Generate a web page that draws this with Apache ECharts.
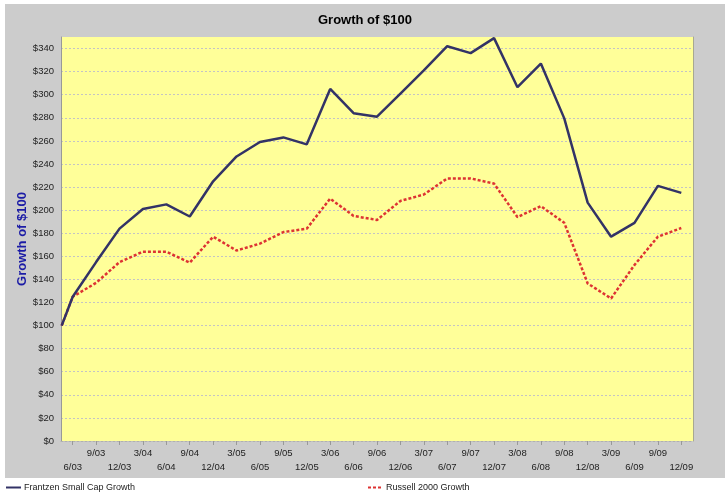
<!DOCTYPE html>
<html>
<head>
<meta charset="utf-8">
<script src="https://cdn.jsdelivr.net/npm/echarts@6/dist/echarts.min.js"></script>
<style>
  html, body { margin: 0; padding: 0; background: #ffffff; }
  #bg { position: absolute; left: 5px; top: 4px; width: 720px; height: 474px; background: #cccccc; }
  #chart { position: absolute; left: 0; top: 0; width: 725px; height: 494px; }
</style>
</head>
<body>
<div id="bg"></div>
<div id="chart"></div>
<script>
// Quarter-end category labels
const quarters = ['6/03','9/03','12/03','3/04','6/04','9/04','12/04','3/05','6/05','9/05','12/05',
  '3/06','6/06','9/06','12/06','3/07','6/07','9/07','12/07','3/08','6/08','9/08','12/08',
  '3/09','6/09','9/09','12/09'];
// Inception point sits about half a quarter before 6/03 (in quarter units)
const inceptionOffset = -0.47;
// Growth of $100 (first value = inception)
const frantzen = [100, 125, 155, 184, 201, 205, 194.5, 225, 246.5, 259, 263, 257, 305, 284, 281,
  301, 321, 342, 336, 349, 306.5, 327, 279.5, 206.5, 177, 189, 221, 215];
const russell = [100, 125, 137, 155, 164, 164, 154.5, 177, 165, 171, 181, 184, 210, 195, 191.5,
  208, 213.5, 227.5, 227.5, 223, 194, 203.5, 189, 136.5, 123.5, 152.5, 177, 184.5];
const seriesNames = ['Frantzen Small Cap Growth', 'Russell 2000 Growth'];

function toPoints(vals) {
  return vals.map((v, i) => [i === 0 ? inceptionOffset : i - 1, v]);
}

const FONT = "'Liberation Sans', Arial, sans-serif";
const NARROW = "'Liberation Sans Narrow', 'Arial Narrow', 'Liberation Sans', Arial, sans-serif";

const legendCommon = {
  top: 483, padding: 0, itemWidth: 15, itemHeight: 8, itemGap: 4,
  itemStyle: { opacity: 0, borderWidth: 0 },
  textStyle: { fontFamily: NARROW, fontSize: 9, color: '#222222', padding: [0, 0, 0, -2] }
};

const chart = echarts.init(document.getElementById('chart'), null, { renderer: 'canvas' });
chart.setOption({
  backgroundColor: 'transparent',
  animation: false,
  title: {
    text: 'Growth of $100',
    left: 313, top: 9,
    textStyle: { fontFamily: FONT, fontSize: 13, fontWeight: 'bold', color: '#000000' }
  },
  legend: [
    Object.assign({ left: 5, data: [seriesNames[0]] }, legendCommon),
    Object.assign({ left: 367, data: [seriesNames[1]] }, legendCommon)
  ],
  grid: {
    left: 61, right: 32, top: 37, bottom: 53,
    show: true, backgroundColor: '#ffff99', borderWidth: 0,
    containLabel: false
  },
  xAxis: [
    {
      type: 'category',
      data: quarters,
      boundaryGap: true,
      axisLine: { show: true, lineStyle: { color: '#b0b0b0', width: 1, type: [2, 2] } },
      axisTick: { show: true, alignWithLabel: true, interval: 0, length: 4, lineStyle: { color: '#999999' } },
      axisLabel: {
        interval: 0, hideOverlap: false, margin: 5,
        fontFamily: FONT, fontSize: 9.5, color: '#222222', lineHeight: 14,
        formatter: (v, i) => (i % 2 === 0 ? '\n' + v : v)
      },
      splitLine: { show: false }
    },
    {
      type: 'value',
      min: -0.5, max: 26.5,
      show: false
    }
  ],
  yAxis: [
    {
      type: 'value',
      min: 0, max: 350, interval: 20,
      axisLine: { show: true, onZero: false, lineStyle: { color: '#999999', width: 1 } },
      axisTick: { show: false },
      axisLabel: {
        margin: 7, fontFamily: FONT, fontSize: 9.5, color: '#222222',
        formatter: v => (v > 340 ? '' : '$' + v)
      },
      splitLine: { show: true, showMaxLine: false, lineStyle: { color: '#c4c4c4', width: 1, type: [2, 2] } },
      name: 'Growth of $100',
      nameLocation: 'middle',
      nameGap: 32,
      nameMoveOverlap: false,
      nameRotate: 90,
      nameTextStyle: { fontFamily: FONT, fontSize: 13, fontWeight: 'bold', color: '#1c1ca6' }
    },
    {
      type: 'value', position: 'right',
      min: 0, max: 350, interval: 20,
      axisLine: { show: true, onZero: false, lineStyle: { color: '#a8a890', width: 1 } },
      axisTick: { show: false }, axisLabel: { show: false }, splitLine: { show: false }
    }
  ],
  series: [
    {
      name: seriesNames[0], type: 'line', xAxisIndex: 1, yAxisIndex: 0,
      data: toPoints(frantzen), symbol: 'none', showSymbol: false,
      lineStyle: { color: '#333366', width: 2.5 }, itemStyle: { color: '#333366' }, z: 3
    },
    {
      name: seriesNames[1], type: 'line', xAxisIndex: 1, yAxisIndex: 0,
      data: toPoints(russell), symbol: 'none', showSymbol: false,
      lineStyle: { color: '#dd3333', width: 2.5, type: [3, 2] }, itemStyle: { color: '#dd3333' }, z: 2
    }
  ]
});
</script>
</body>
</html>
